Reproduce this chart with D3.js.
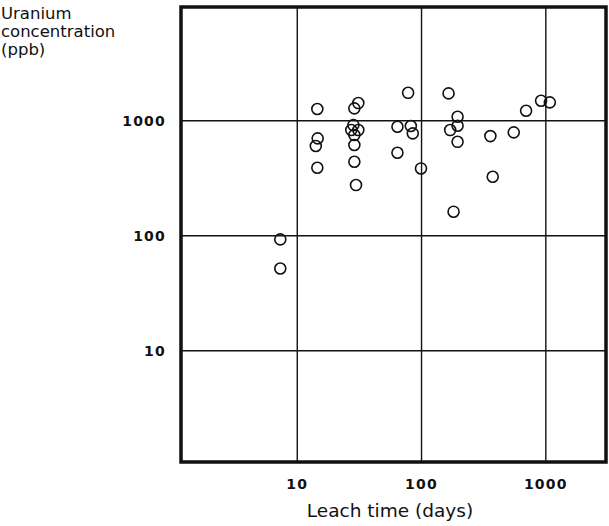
<!DOCTYPE html>
<html>
<head>
<meta charset="utf-8">
<script src="https://cdn.jsdelivr.net/npm/d3@7"></script>
<style>
  body { margin: 0; background: #fff; }
  text { font-family: "DejaVu Sans", sans-serif; fill: #111; }
</style>
</head>
<body>
<div id="chart"></div>
<script>
// leach time in days and uranium concentration in ppb
var leachDays = [7.3, 7.3, 14.5, 14.6, 14.1, 14.5, 31, 28.8, 28.3, 27.2, 31, 28.8, 28.8, 28.8, 29.7,
    64, 64, 78, 82, 85, 99, 165, 170, 195, 195, 195, 181, 358, 374, 552, 694, 916, 1077];
var uraniumPpb = [93, 52, 1265, 703, 603, 390, 1425, 1282, 917, 830, 830, 751, 615, 440, 276,
    887, 527, 1750, 900, 777, 385, 1730, 830, 1083, 905, 656, 162, 736, 326, 793, 1221, 1493, 1445];
var xTicks = [10, 100, 1000];
var yTicks = [10, 100, 1000];
var yTitle = ["Uranium", "concentration", "(ppb)"];
var xTitle = "Leach time (days)";

function init() {
    var width = 609, height = 526;

    var svg = d3.select("#chart")
        .append("svg")
        .attr("width", width)
        .attr("height", height);

    var x = d3.scaleLog()
        .domain([1.16, 3050])
        .range([181, 606]);

    var y = d3.scaleLog()
        .domain([1.08, 9750])
        .range([462, 7]);

    var data = leachDays.map(function (d, i) {
        return { days: d, ppb: uraniumPpb[i] };
    });

    // grid lines at the decades
    svg.append("g")
        .selectAll("line")
        .data(xTicks)
        .enter()
        .append("line")
        .attr("x1", function (d) { return x(d); })
        .attr("x2", function (d) { return x(d); })
        .attr("y1", y.range()[0])
        .attr("y2", y.range()[1])
        .attr("stroke", "#111")
        .attr("stroke-width", 1.4);

    svg.append("g")
        .selectAll("line")
        .data(yTicks)
        .enter()
        .append("line")
        .attr("x1", x.range()[0])
        .attr("x2", x.range()[1])
        .attr("y1", function (d) { return y(d); })
        .attr("y2", function (d) { return y(d); })
        .attr("stroke", "#111")
        .attr("stroke-width", 1.6);

    // heavy frame
    svg.append("rect")
        .attr("x", x.range()[0])
        .attr("y", y.range()[1])
        .attr("width", x.range()[1] - x.range()[0])
        .attr("height", y.range()[0] - y.range()[1])
        .attr("fill", "none")
        .attr("stroke", "#111")
        .attr("stroke-width", 3.5);

    // tick labels
    svg.append("g")
        .selectAll("text")
        .data(xTicks)
        .enter()
        .append("text")
        .attr("x", function (d) { return x(d); })
        .attr("y", 489)
        .attr("text-anchor", "middle")
        .style("font-size", "14px")
        .style("font-weight", "bold")
        .style("letter-spacing", "1.2px")
        .text(function (d) { return d; });

    svg.append("g")
        .selectAll("text")
        .data(yTicks)
        .enter()
        .append("text")
        .attr("x", 166)
        .attr("y", function (d) { return y(d) + 5; })
        .attr("text-anchor", "end")
        .style("font-size", "14px")
        .style("font-weight", "bold")
        .style("letter-spacing", "1.2px")
        .text(function (d) { return d; });

    // axis titles
    svg.append("text")
        .attr("x", 390)
        .attr("y", 517)
        .attr("text-anchor", "middle")
        .style("font-size", "18.5px")
        .text(xTitle);

    svg.append("g")
        .selectAll("text")
        .data(yTitle)
        .enter()
        .append("text")
        .attr("x", 1)
        .attr("y", function (d, i) { return 19 + i * 18; })
        .style("font-size", "16.5px")
        .text(function (d) { return d; });

    // points
    svg.append("g")
        .selectAll("circle")
        .data(data)
        .enter()
        .append("circle")
        .attr("cx", function (d) { return x(d.days); })
        .attr("cy", function (d) { return y(d.ppb); })
        .attr("r", 5.5)
        .attr("fill", "none")
        .attr("stroke", "#111")
        .attr("stroke-width", 1.6);
}

window.onload = init;
</script>
</body>
</html>
